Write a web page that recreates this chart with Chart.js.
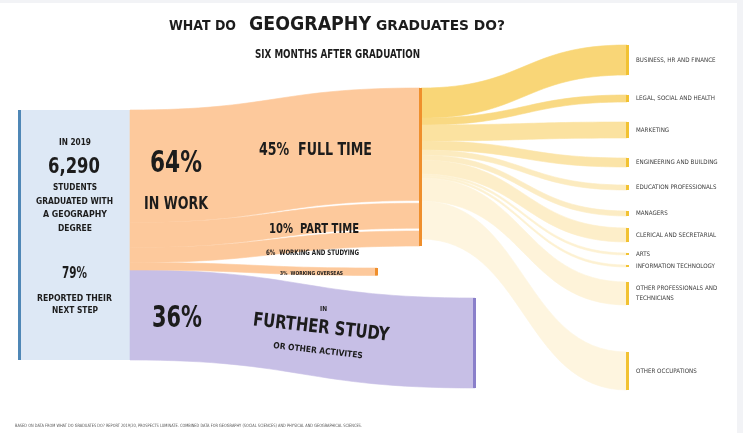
<!DOCTYPE html>
<html><head><meta charset="utf-8">
<script src="https://cdn.jsdelivr.net/npm/chart.js@4.4.1/dist/chart.umd.min.js"></script>
<style>html,body{margin:0;padding:0;background:#fff;overflow:hidden}#wrap{width:743px;height:433px;position:relative}</style>
</head><body><div id="wrap"><canvas id="c" width="743" height="433"></canvas></div>
<script>
// ---------- DATA ----------
const totalGraduates = 6290;
const graduationYear = 2019;
const reportedShare = 79;
const outcomeLabels = ['IN WORK', 'FURTHER STUDY'];
const outcomeValues = [64, 36];
const workLabels = ['FULL TIME', 'PART TIME', 'WORKING AND STUDYING', 'WORKING OVERSEAS'];
const workValues = [45, 10, 6, 3];
const occupationLabels = [
  'BUSINESS, HR AND FINANCE', 'LEGAL, SOCIAL AND HEALTH', 'MARKETING',
  'ENGINEERING AND BUILDING', 'EDUCATION PROFESSIONALS', 'MANAGERS',
  'CLERICAL AND SECRETARIAL', 'ARTS', 'INFORMATION TECHNOLOGY',
  'OTHER PROFESSIONALS AND|TECHNICIANS', 'OTHER OCCUPATIONS'
];
const occupationValues = [12, 2.8, 6.4, 3.6, 2, 2, 5.6, 0.8, 0.8, 9.2, 15.2];

// ---------- LAYOUT / STYLE (not data) ----------
const layout = {
  xLeft: 18, xSplit: 130, xWork: 420, xOverseas: 377, xStudy: 475, xOcc: 627,
  leftTop: 44, workTop: 35.2, workGap: 1.1, overseasTop: 107.2, studyTop: 119.2,
  occTop: 18, occGaps: [8, 8, 8, 7.2, 8.4, 4.8, 4.4, 4, 6, 18.8]
};
const occColors = ['#f9d677', '#f9d983', '#fbe2a0', '#fbe4a8', '#fcebbf', '#fcecc4',
  '#fdeec9', '#fdf1d2', '#fdf1d2', '#fef3d9', '#fef5df'];
const C = { blue: '#dde8f5', blueBar: '#4f87b6', orange: '#fdc99c', orangeBar: '#ef8f2c',
  purple: '#c7bfe6', purpleBar: '#8a7fca', gold: '#f2c232', text: '#1c1c1c' };
const F = "'Liberation Sans Narrow','DejaVu Sans Condensed','Liberation Sans',sans-serif";

function fitText(ctx, s, x0, x1, base, size, weight, color) {
  ctx.save();
  ctx.font = (weight || 'bold') + ' ' + size + 'px ' + F;
  const w = ctx.measureText(s).width;
  ctx.translate(x0, base);
  ctx.scale((x1 - x0) / w, 1);
  ctx.fillStyle = color || C.text;
  ctx.textAlign = 'left'; ctx.textBaseline = 'alphabetic';
  ctx.fillText(s, 0, 0);
  ctx.restore();
}
function rotText(ctx, s, cx, cy, width, size, angle, weight) {
  ctx.save();
  ctx.font = (weight || 'bold') + ' ' + size + 'px ' + F;
  const w = ctx.measureText(s).width;
  ctx.translate(cx, cy); ctx.rotate(angle * Math.PI / 180);
  ctx.scale(width / w, 1);
  ctx.fillStyle = C.text; ctx.textAlign = 'center'; ctx.textBaseline = 'middle';
  ctx.fillText(s, 0, 0);
  ctx.restore();
}

const sankeyPlugin = {
  id: 'sankeyDraw',
  beforeDraw(chart) {
    const ctx = chart.ctx;
    ctx.save();
    ctx.fillStyle = '#ffffff'; ctx.fillRect(0, 0, chart.width, chart.height);
    ctx.fillStyle = '#f2f3f6'; ctx.fillRect(0, 0, chart.width, 3); ctx.fillRect(737, 0, 6, chart.height);
    ctx.restore();
  },
  afterDatasetsDraw(chart) {
    const ctx = chart.ctx, xs = chart.scales.x, ys = chart.scales.y;
    const X = v => xs.getPixelForValue(v), Y = v => ys.getPixelForValue(v);
    function band(x0, x1, a0, b0, a1, b1, fill) {
      const X0 = X(x0), X1 = X(x1), m = (X0 + X1) / 2;
      ctx.beginPath();
      ctx.moveTo(X0, Y(a0));
      ctx.bezierCurveTo(m, Y(a0), m, Y(a1), X1, Y(a1));
      ctx.lineTo(X1, Y(b1));
      ctx.bezierCurveTo(m, Y(b1), m, Y(b0), X0, Y(b0));
      ctx.closePath();
      ctx.fillStyle = fill; ctx.fill();
      ctx.strokeStyle = fill; ctx.lineWidth = 0.6; ctx.stroke();
    }
    function rect(x0, x1, a, b, fill) {
      ctx.fillStyle = fill;
      ctx.fillRect(X(x0), Y(a), X(x1) - X(x0), Y(b) - Y(a));
    }
    ctx.save();
    const L = layout;
    const total = outcomeValues.reduce((s, v) => s + v, 0);
    // left node
    rect(L.xLeft, L.xSplit, L.leftTop, L.leftTop + total, C.blue);
    rect(L.xLeft, L.xLeft + 3, L.leftTop, L.leftTop + total, C.blueBar);
    // further study band (drawn first)
    const studyLeft = L.leftTop + outcomeValues[0];
    band(L.xSplit, L.xStudy, studyLeft, studyLeft + outcomeValues[1], L.studyTop, L.studyTop + outcomeValues[1], C.purple);
    rect(L.xStudy - 2, L.xStudy + 1, L.studyTop, L.studyTop + outcomeValues[1], C.purpleBar);
    // work bands
    let yl = L.leftTop, yr = L.workTop;
    for (let i = 0; i < 3; i++) {
      band(L.xSplit, L.xWork, yl, yl + workValues[i], yr, yr + workValues[i], C.orange);
      yl += workValues[i]; yr += workValues[i] + (i < 2 ? L.workGap : 0);
    }
    const workBottom = yr;
    band(L.xSplit, L.xOverseas, yl, yl + workValues[3], L.overseasTop, L.overseasTop + workValues[3], C.orange);
    rect(L.xOverseas - 2, L.xOverseas + 1, L.overseasTop, L.overseasTop + workValues[3], C.orangeBar);
    // occupation flows
    let ys0 = L.workTop, yt = L.occTop;
    const occPos = [];
    for (let i = 0; i < occupationValues.length; i++) {
      const v = occupationValues[i];
      band(L.xWork + 1, L.xOcc, ys0, ys0 + v, yt, yt + v, occColors[i]);
      occPos.push([yt, yt + v]);
      ys0 += v;
      yt += v + (L.occGaps[i] || 0);
    }
    rect(L.xWork - 1, L.xWork + 2, L.workTop, workBottom, C.orangeBar);
    occPos.forEach(p => rect(L.xOcc - 1, L.xOcc + 2, p[0], p[1], C.gold));
    // occupation labels
    ctx.fillStyle = '#3a3a3a'; ctx.font = 'normal 6.2px ' + F; ctx.textBaseline = 'middle'; ctx.textAlign = 'left';
    occupationLabels.forEach((lab, i) => {
      const lines = lab.split('|');
      const cy = (Y(occPos[i][0]) + Y(occPos[i][1])) / 2;
      lines.forEach((ln, k) => ctx.fillText(ln, 636, cy + (k - (lines.length - 1) / 2) * 10));
    });
    // titles
    fitText(ctx, 'WHAT DO', 169, 236, 29.5, 14.5);
    fitText(ctx, 'GEOGRAPHY', 249, 371, 29.5, 20);
    fitText(ctx, 'GRADUATES DO?', 376, 505, 29.5, 14.5);
    fitText(ctx, 'SIX MONTHS AFTER GRADUATION', 255, 420, 58.3, 11.5);
    // left node texts
    fitText(ctx, 'IN ' + graduationYear, 59, 91, 145, 9.5);
    fitText(ctx, totalGraduates.toLocaleString('en-GB'), 48, 100, 173, 22);
    fitText(ctx, 'STUDENTS', 53, 97, 190, 9.5);
    fitText(ctx, 'GRADUATED WITH', 36, 113, 204, 9.5);
    fitText(ctx, 'A GEOGRAPHY', 43, 107, 217, 9.5);
    fitText(ctx, 'DEGREE', 58, 92, 231, 9.5);
    fitText(ctx, reportedShare + '%', 62, 87, 278, 15);
    fitText(ctx, 'REPORTED THEIR', 37, 112, 301, 9.5);
    fitText(ctx, 'NEXT STEP', 52, 98, 313, 9.5);
    // outcome texts
    fitText(ctx, outcomeValues[0] + '%', 150, 202, 172, 30);
    fitText(ctx, outcomeLabels[0], 144, 208, 209, 18);
    fitText(ctx, outcomeValues[1] + '%', 152, 202, 327, 30);
    fitText(ctx, workValues[0] + '%  ' + workLabels[0], 259, 372, 155, 17);
    fitText(ctx, workValues[1] + '%  ' + workLabels[1], 269, 359, 233, 14);
    fitText(ctx, workValues[2] + '%  ' + workLabels[2], 266, 359, 255, 7.5);
    fitText(ctx, workValues[3] + '%  ' + workLabels[3], 280, 343, 275, 5.5);
    fitText(ctx, 'IN', 320, 327, 311, 7);
    rotText(ctx, outcomeLabels[1], 321, 328, 137, 19, 6.5);
    rotText(ctx, 'OR OTHER ACTIVITES', 318, 351, 90, 8.5, 6.5);
    // footer
    fitText(ctx, 'BASED ON DATA FROM WHAT DO GRADUATES DO? REPORT 2019/20, PROSPECTS LUMINATE. COMBINED DATA FOR GEOGRAPHY (SOCIAL SCIENCES) AND PHYSICAL AND GEOGRAPHICAL SCIENCES.', 15, 362, 427, 4.5, 'normal', '#555');
    ctx.restore();
  }
};

new Chart(document.getElementById('c'), {
  type: 'scatter',
  data: { datasets: [{ data: [], pointRadius: 0 }] },
  options: {
    responsive: false, animation: false, devicePixelRatio: 1, events: [],
    layout: { padding: 0 },
    plugins: { legend: { display: false }, tooltip: { enabled: false }, title: { display: false } },
    scales: {
      x: { type: 'linear', min: 0, max: 743, display: false },
      y: { type: 'linear', min: 0, max: 173.2, reverse: true, display: false }
    }
  },
  plugins: [sankeyPlugin]
});
</script>
</body></html>
